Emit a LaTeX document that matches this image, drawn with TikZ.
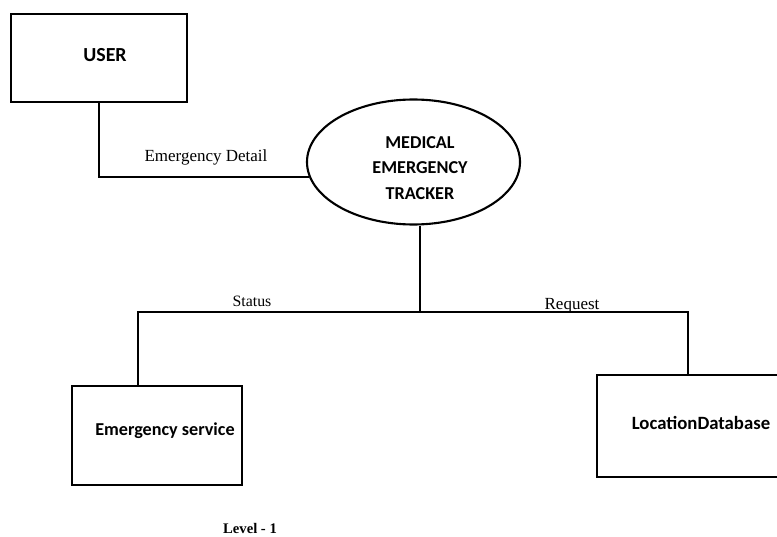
\documentclass[tikz,border=0pt]{standalone}
\usepackage{fontspec}
\setmainfont{Liberation Serif}
\newfontfamily\calib{Carlito}
\usetikzlibrary{shapes.geometric}

\tikzset{
  blk/.style={draw, line width=1.8pt, inner sep=0pt},
  ttl/.style={font=\calib\bfseries\fontsize{15.5}{21.5}\selectfont, align=center, inner sep=0pt},
  flowlbl/.style={font=\fontsize{14.5}{16}\selectfont, inner sep=0pt},
  wire/.style={line width=1.8pt}
}

\begin{document}
\begin{tikzpicture}[x=0.03cm, y=-0.03cm]
\useasboundingbox (0,0) rectangle (777,537); % page

\node[blk, minimum width=5.28cm, minimum height=2.64cm] (user) at (99,58) {}; % user box
\node[ttl, font=\calib\bfseries\fontsize{17}{19}\selectfont] (usertext) at (105,55) {USER};
\node[blk, ellipse, minimum width=6.39cm, minimum height=3.75cm] (met) at (413.5,162) {}; % process
\node[ttl] (mettext) at (420,168) {MEDICAL\\EMERGENCY\\TRACKER};
\node[blk, minimum width=5.1cm, minimum height=2.97cm] (esbox) at (157,435.5) {}; % service box
\node[ttl] (estext) at (165,431) {Emergency service};
\node[blk, minimum width=5.79cm, minimum height=3.06cm] (ldbox) at (693.5,426) {}; % database box
\node[ttl, font=\calib\bfseries\fontsize{16}{18}\selectfont] (ldtext) at (701,423) {LocationDatabase};

\coordinate (hub) at (420,312);
\coordinate (sl) at (138,312);
\coordinate (sr) at (688,312);

\draw[wire] (user.south) |- (met.188); % user to tracker
\draw[wire] (hub |- met.south) -- (hub); % tracker down
\draw[wire] (esbox.north -| sl) -- (sl) -- (sr) -- (ldbox.north -| sr); % branch

\node[flowlbl] (detail) at (206,157) {Emergency Detail};
\node[flowlbl, font=\fontsize{13.5}{15}\selectfont] (status) at (252,301) {Status};
\node[flowlbl] (request) at (572,306) {Request};
\node[flowlbl, font=\bfseries\fontsize{12.5}{14}\selectfont] (level) at (250,528) {Level - 1};
\end{tikzpicture}
\end{document}
